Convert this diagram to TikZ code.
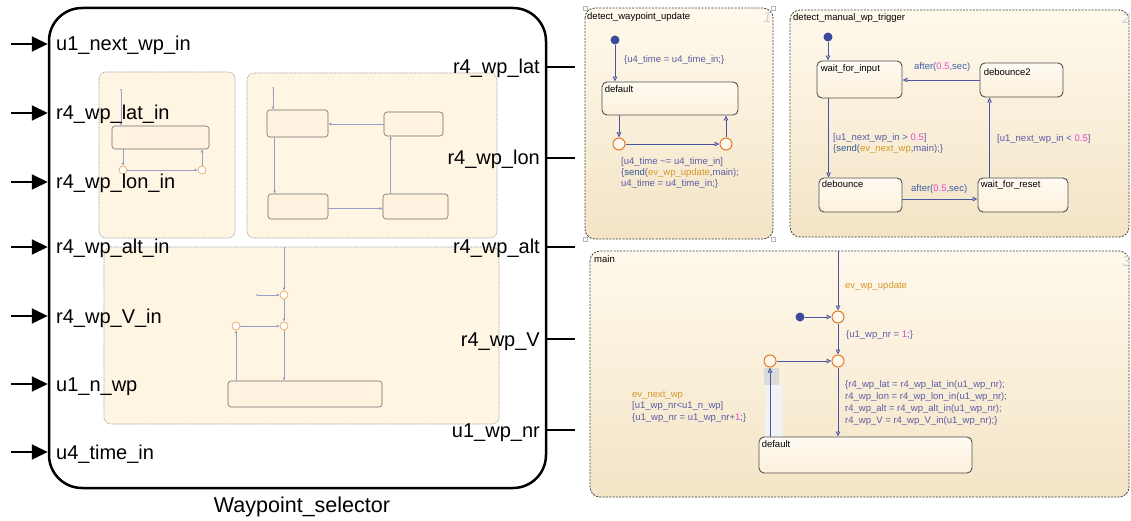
\documentclass[tikz,border=0pt]{standalone}
\usepackage{fontspec}
\setmainfont{Liberation Sans}
\usetikzlibrary{arrows.meta,calc}
\definecolor{cream}{HTML}{FFF5E3}
\definecolor{chtop}{HTML}{FFF9EC}
\definecolor{chbot}{HTML}{F3E4C6}
\definecolor{sttop}{HTML}{FFFBF3}
\definecolor{stbot}{HTML}{FCF0DA}
\definecolor{stedge}{HTML}{505050}
\definecolor{jorange}{HTML}{E07A2A}
\definecolor{jfill}{HTML}{FFF8EC}
\definecolor{dotblue}{HTML}{3C4A9E}
\definecolor{trblue}{HTML}{4A55A2}
\definecolor{minib}{HTML}{9C9CC8}
\definecolor{slate}{HTML}{5B5BA6}
\definecolor{sendc}{HTML}{2C5A8E}
\definecolor{evc}{HTML}{D8962A}
\definecolor{afterc}{HTML}{3D5FA5}
\definecolor{numc}{HTML}{E048D4}
\definecolor{mstate}{HTML}{FFF3E0}
\begin{document}
\begin{tikzpicture}[x=1pt,y=-1pt,
  chartbg/.style={rounded corners=10pt, draw=black!75, dash pattern=on 2pt off 1.3pt, line width=0.8pt, top color=chtop, bottom color=chbot},
  minibox/.style={rounded corners=7pt, draw=gray!75, dash pattern=on 1.5pt off 1pt, line width=0.6pt, fill=cream},
  stbox/.style={draw=stedge, rounded corners=5pt, line width=0.9pt, top color=sttop, bottom color=stbot, inner sep=0},
  ministate/.style={draw=gray!85!black, rounded corners=3pt, line width=0.6pt, fill=mstate, inner sep=0},
  jn/.style={circle, draw=jorange, line width=1pt, fill=jfill, minimum size=12pt, inner sep=0},
  minijn/.style={circle, draw=jorange!75, line width=0.6pt, fill=white, minimum size=8pt, inner sep=0},
  initdot/.style={circle, fill=dotblue, minimum size=9pt, inner sep=0},
  minidot/.style={circle, fill=minib, minimum size=2pt, inner sep=0},
  tr/.style={draw=trblue, line width=0.9pt, -{Triangle[open,length=5pt,width=4.5pt]}},
  minitr/.style={draw=minib, line width=0.6pt, -{Triangle[open,length=3pt,width=2.5pt]}},
  lbl/.style={inner sep=0, anchor=base west, font=\fontsize{9.5}{11}\selectfont, text=slate},
  stlbl/.style={inner sep=0, anchor=base west, font=\fontsize{9.5}{11}\selectfont, text=black},
  numlbl/.style={inner sep=0, anchor=base west, font=\fontsize{15}{17}\selectfont\itshape, text=gray!35},
  portin/.style={line width=2pt, -{Triangle[length=16pt,width=15pt]}},
  portout/.style={line width=2pt},
  portlbl/.style={inner sep=0, font=\fontsize{20}{22}\selectfont},
  handle/.style={draw=gray!60, fill=white, minimum size=4pt, inner sep=0, line width=0.5pt}
]
\useasboundingbox (0,0) rectangle (1131,521);

% ---------------- Block ----------------
\node[draw, line width=2.5pt, rounded corners=33pt, minimum width=497pt, minimum height=480pt, inner sep=0, fill=white] (blk) at (297.5,248) {};

% miniature A
\draw[minibox] (99,72) rectangle (235,238);
\node[ministate, minimum width=97pt, minimum height=23pt] (ma) at (160.5,137.5) {};
\node[minidot] (mai) at (121,90) {};
\draw[minitr] (mai) -- (mai |- ma.north);
\node[minijn] (maj1) at (123,170) {};
\node[minijn] (maj2) at (202,170) {};
\draw[minitr] (maj1 |- ma.south) -- (maj1.north);
\draw[minitr] (maj1.east) -- (maj2.west);
\draw[minitr] (maj2.north) -- (maj2 |- ma.south);

% miniature B
\draw[minibox] (247,73) rectangle (497,238);
\node[ministate, minimum width=61pt, minimum height=27pt] (mb1) at (297.5,123.5) {};
\node[ministate, minimum width=59pt, minimum height=24pt] (mb2) at (413.5,124) {};
\node[ministate, minimum width=60pt, minimum height=25pt] (mb3) at (298,206.5) {};
\node[ministate, minimum width=65pt, minimum height=25pt] (mb4) at (415.5,206.5) {};
\node[minidot] (mbi) at (273,88) {};
\draw[minitr] (mbi) -- (mbi |- mb1.north);
\draw[minitr] (mb2.west) -- (mb2.west -| mb1.east);
\draw[minitr] ([xshift=8pt]mb1.south west) -- ([xshift=8pt]mb1.south west |- mb3.north);
\draw[minitr] ([yshift=-2pt]mb3.east) -- ([yshift=-2pt]mb3.east -| mb4.west);
\draw[minitr] ([xshift=8pt]mb4.north west) -- ([xshift=8pt]mb4.north west |- mb2.south);

% miniature C
\draw[minibox] (104,247) rectangle (499,424);
\node[minijn] (mc1) at (284,295) {};
\node[minijn] (mc2) at (284,326) {};
\node[minijn] (mc3) at (236,326) {};
\node[ministate, minimum width=154pt, minimum height=26pt] (mcs) at (305,394) {};
\coordinate (mct) at (284,247);
\node[minidot] (mci) at (257,295) {};
\draw[minitr] (mct) -- (mc1.north);
\draw[minitr] (mci) -- (mc1.west);
\draw[minitr] (mc1.south) -- (mc2.north);
\draw[minitr] (mc3.east) -- (mc2.west);
\draw[minitr] (mc2.south) -- (mc2 |- mcs.north);
\draw[minitr] (mc3 |- mcs.north) -- (mc3.south);

% input ports
\foreach \n/\y/\t in {1/44/u1\_next\_wp\_in, 2/113/r4\_wp\_lat\_in, 3/182/r4\_wp\_lon\_in, 4/247/r4\_wp\_alt\_in, 5/316/r4\_wp\_V\_in, 6/384/u1\_n\_wp, 7/452/u4\_time\_in}{
  \coordinate (pin\n) at (11,\y);
  \draw[portin] (pin\n) -- (pin\n -| blk.west);
  \node[portlbl, anchor=base west] (pinl\n) at (56,\y+7) {\t};
}
% output ports
\foreach \n/\y/\t in {1/67/r4\_wp\_lat, 2/158/r4\_wp\_lon, 3/247/r4\_wp\_alt, 4/339/r4\_wp\_V, 5/430/u1\_wp\_nr}{
  \coordinate (pout\n) at (575,\y);
  \draw[portout] (pout\n -| blk.east) -- (pout\n);
  \node[portlbl, anchor=base east] (poutl\n) at (540,\y+7) {\t};
}
\node[portlbl, font=\fontsize{21.5}{24}\selectfont] (title) at (302,507) {Waypoint\_selector};

% ---------------- Chart 1 ----------------
\draw[chartbg] (585,8) rectangle (773,239);
\foreach \p/\q in {a/{585,8}, b/{773,8}, c/{585,239}, d/{773,239}}{\node[handle] (h\p) at (\q) {};}
\node[stlbl] (c1t) at (587,19.5) {detect\_waypoint\_update};
\node[numlbl] (c1n) at (763,23) {1};
\node[initdot] (c1i) at (615,40) {};
\node[stbox, minimum width=136pt, minimum height=33pt] (c1d) at (670,98.5) {};
\node[stlbl] (c1dl) at ([shift={(3,11)}]c1d.north west) {default};
\draw[tr] (c1i) -- (c1i |- c1d.north);
\node[lbl] (c1a) at (624,62.5) {\{u4\_time = u4\_time\_in;\}};
\node[jn] (c1j1) at (619,144) {};
\node[jn] (c1j2) at (726,144) {};
\draw[tr] (c1j1 |- c1d.south) -- (c1j1.north);
\draw[tr] (c1j1.east) -- (c1j2.west);
\draw[tr] (c1j2.north) -- (c1j2 |- c1d.south);
\node[lbl] (c1b1) at (621,164.5) {[u4\_time \textasciitilde= u4\_time\_in]};
\node[lbl] (c1b2) at (621,175.5) {\{\textcolor{sendc}{send}(\textcolor{evc}{ev\_wp\_update},main);};
\node[lbl] (c1b3) at (621,186.5) {u4\_time = u4\_time\_in;\}};

% ---------------- Chart 2 ----------------
\draw[chartbg] (790,10) rectangle (1129,237);
\node[stlbl] (c2t) at (793,21) {detect\_manual\_wp\_trigger};
\node[numlbl] (c2n) at (1122,24) {2};
\node[initdot] (c2i) at (828,37) {};
\node[stbox, minimum width=85pt, minimum height=37pt] (wfi) at (859.5,79.5) {};
\node[stlbl] (wfil) at ([shift={(4,11)}]wfi.north west) {wait\_for\_input};
\node[stbox, minimum width=83pt, minimum height=34pt] (db2) at (1021.5,80) {};
\node[stlbl] (db2l) at ([shift={(4,13)}]db2.north west) {debounce2};
\node[stbox, minimum width=83pt, minimum height=34pt] (db) at (860.5,195) {};
\node[stlbl] (dbl) at ([shift={(3,10)}]db.north west) {debounce};
\node[stbox, minimum width=90pt, minimum height=34pt] (wfr) at (1023,195) {};
\node[stlbl] (wfrl) at ([shift={(3,10)}]wfr.north west) {wait\_for\_reset};
\draw[tr] (c2i) -- (c2i |- wfi.north);
\draw[tr] (db2.west) -- (db2.west -| wfi.east);
\draw[tr] ([xshift=12pt]wfi.south west) -- ([xshift=12pt]wfi.south west |- db.north);
\draw[tr] ([yshift=-4pt]db.east) -- ([yshift=-4pt]db.east -| wfr.west);
\draw[tr] ([xshift=12pt]wfr.north west) -- ([xshift=12pt]wfr.north west |- db2.south);
\node[lbl] (c2a1) at (914,69.5) {\textcolor{afterc}{after(}\textcolor{numc}{0.5}\textcolor{afterc}{,sec)}};
\node[lbl] (c2a2) at (911,191.5) {\textcolor{afterc}{after(}\textcolor{numc}{0.5}\textcolor{afterc}{,sec)}};
\node[lbl] (c2g1) at (833,140.5) {[u1\_next\_wp\_in > \textcolor{numc}{0.5}]};
\node[lbl] (c2g2) at (833,151.5) {\{\textcolor{sendc}{send}(\textcolor{evc}{ev\_next\_wp},main);\}};
\node[lbl] (c2g3) at (997,141.5) {[u1\_next\_wp\_in < \textcolor{numc}{0.5}]};

% ---------------- Chart 3 (main) ----------------
\draw[chartbg] (590,251) rectangle (1129,497);
\node[stlbl] (c3t) at (594,262) {main};
\node[numlbl] (c3n) at (1122,266) {3};
\fill[gray!10] (765,384) rectangle (783,448);
\fill[gray!28] (764,368) rectangle (779,385);
\coordinate (c3top) at (838,251);
\node[jn] (c3j1) at (838,317) {};
\node[jn] (c3j2) at (838,361) {};
\node[jn] (c3j3) at (770,361) {};
\node[initdot] (c3i) at (800,317) {};
\node[stbox, minimum width=213pt, minimum height=36pt] (c3d) at (865.5,455) {};
\node[stlbl] (c3dl) at ([shift={(3,11)}]c3d.north west) {default};
\draw[tr] (c3top) -- (c3j1.north);
\draw[tr] (c3i) -- (c3j1.west);
\draw[tr] (c3j1.south) -- (c3j2.north);
\draw[tr] (c3j3.east) -- (c3j2.west);
\draw[tr] (c3j2.south) -- (c3j2 |- c3d.north);
\draw[tr] (c3j3 |- c3d.north) -- (c3j3.south);
\node[lbl, text=evc] (c3e) at (845,288.5) {ev\_wp\_update};
\node[lbl] (c3u) at (846,337.5) {\{u1\_wp\_nr = \textcolor{numc}{1};\}};
\node[lbl] (c3l1) at (845,387.5) {\{r4\_wp\_lat = r4\_wp\_lat\_in(u1\_wp\_nr);};
\node[lbl] (c3l2) at (845,399.5) {r4\_wp\_lon = r4\_wp\_lon\_in(u1\_wp\_nr);};
\node[lbl] (c3l3) at (845,411.5) {r4\_wp\_alt = r4\_wp\_alt\_in(u1\_wp\_nr);};
\node[lbl] (c3l4) at (845,423) {r4\_wp\_V = r4\_wp\_V\_in(u1\_wp\_nr);\}};
\node[lbl, text=evc] (c3n1) at (632,397) {ev\_next\_wp};
\node[lbl] (c3n2) at (632,408.5) {[u1\_wp\_nr<u1\_n\_wp]};
\node[lbl] (c3n3) at (632,420) {\{u1\_wp\_nr = u1\_wp\_nr+\textcolor{numc}{1};\}};
\end{tikzpicture}
\end{document}
